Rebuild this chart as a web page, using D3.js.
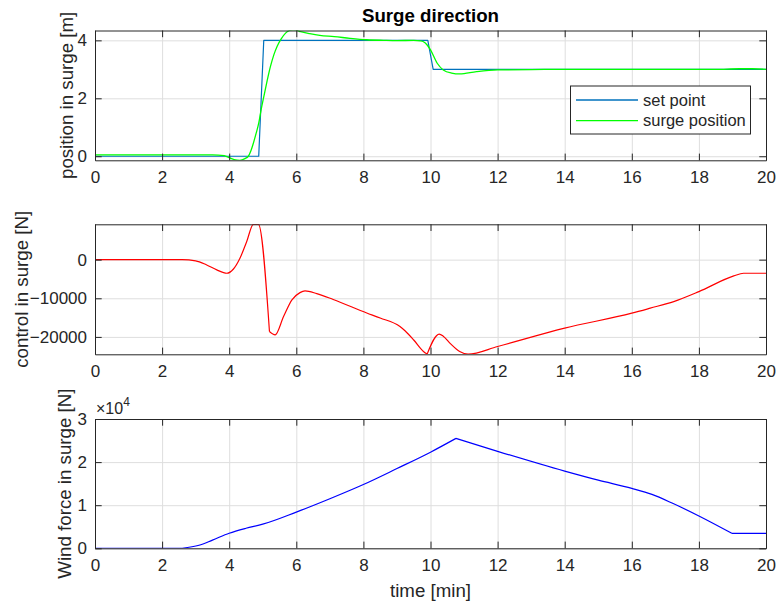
<!DOCTYPE html>
<html>
<head>
<meta charset="utf-8">
<script src="https://cdn.jsdelivr.net/npm/d3@7"></script>
<style>
  html, body { margin: 0; padding: 0; background: #fff; }
  svg { display: block; font-family: "Liberation Sans", Arial, Helvetica, sans-serif; }
</style>
</head>
<body>
<svg id="chart" width="776" height="605"></svg>
<script>
// ---------------- DATA ----------------
const xTicks = [0, 2, 4, 6, 8, 10, 12, 14, 16, 18, 20];

// Panel 1: surge position
const setTime  = [0, 4.88, 5.03, 9.92, 10.08, 20];
const setPoint = [0, 0, 4, 4, 3, 3];
const posTime = [0, 3.5, 3.85, 4.0, 4.15, 4.32, 4.47, 4.57, 4.65, 4.72, 4.8, 4.88, 4.95, 5.03, 5.13, 5.23, 5.33, 5.43, 5.55, 5.68, 5.8, 5.9, 6.0, 6.13, 6.4, 6.7, 7.13, 7.6, 8.1, 8.6, 9.0, 9.5, 9.7, 9.79, 9.9, 10.0, 10.2, 10.38, 10.63, 10.87, 11.37, 12, 13, 14, 18.5, 19.2, 19.6, 20];
const posVal  = [0.05, 0.05, 0.02, -0.05, -0.12, -0.14, -0.08, 0.0, 0.2, 0.45, 0.78, 1.14, 1.6, 2.05, 2.6, 3.1, 3.5, 3.8, 4.05, 4.25, 4.34, 4.36, 4.35, 4.3, 4.23, 4.17, 4.13, 4.07, 4.02, 4.0, 3.99, 4.0, 3.98, 3.95, 3.84, 3.67, 3.21, 2.98, 2.87, 2.84, 2.92, 2.98, 2.99, 3.0, 3.0, 3.02, 3.02, 3.0];
const posTicks = [0, 2, 4];

// Panel 2: control in surge [N]
const ctrlTime = [0, 2.6, 3.0, 3.33, 3.63, 3.93, 4.12, 4.32, 4.52, 4.72, 4.87, 5.2, 5.37, 5.62, 5.87, 6.11, 6.26, 6.61, 7.1, 8.1, 8.5, 9.09, 9.24, 9.5, 9.79, 9.9, 10.26, 10.38, 10.6, 10.87, 11.12, 12, 14, 16, 16.55, 17.25, 18, 19.04, 19.33, 20];
const ctrlVal  = [0, 0, -300, -1370, -2660, -3520, -2490, 360, 4650, 9150, 9150, -18600, -19460, -14730, -10410, -8530, -8100, -8800, -10300, -13800, -15100, -17300, -18400, -20800, -23770, -24450, -19280, -19800, -21800, -23770, -24470, -22480, -17730, -13860, -12560, -10850, -8270, -4210, -3520, -3520];
const ctrlTicks = [-20000, -10000, 0];

// Panel 3: wind force in surge [N]
const windTime = [0, 2.6, 3.1, 3.5, 4.0, 4.5, 5.0, 6.0, 7.0, 8.0, 9.0, 10.0, 10.76, 12, 14, 15, 16, 16.6, 17.2, 18, 18.98, 20];
const windVal  = [0, 0, 700, 1900, 3500, 4650, 5600, 8400, 11500, 14800, 18500, 22300, 25500, 22500, 17900, 15800, 13900, 12500, 10500, 7500, 3480, 3480];
const windTicks = [0, 10000, 20000, 30000];

// ---------------- DRAW ----------------
const svg = d3.select("#chart");
const FONT_TICK = 17, FONT_LABEL = 18.7;
const TXT = "#262626", GRID = "#dedede";
const L = 95, R = 766;
const TICK = 6.7;

const x = d3.scaleLinear().domain([0, 20]).range([L, R]);

function panel(cfg) {
  const y = d3.scaleLinear().domain(cfg.yDomain).range([cfg.bottom, cfg.top]);
  const g = svg.append("g");
  const h = cfg.bottom - cfg.top;
  const w = R - L;

  // grid
  const gx = g.append("g").attr("transform", `translate(0,${cfg.bottom})`)
    .call(d3.axisBottom(x).tickValues(xTicks).tickSize(-h).tickFormat(""));
  const gy = g.append("g").attr("transform", `translate(${L},0)`)
    .call(d3.axisLeft(y).tickValues(cfg.yTicks).tickSize(-w).tickFormat(""));
  [gx, gy].forEach(a => {
    a.select(".domain").remove();
    a.selectAll("line").attr("stroke", GRID).attr("stroke-width", 1);
  });

  // data lines
  const clipId = "clip" + cfg.id;
  svg.append("clipPath").attr("id", clipId).append("rect")
    .attr("x", L).attr("y", cfg.top).attr("width", w).attr("height", h);
  const lines = g.append("g").attr("clip-path", `url(#${clipId})`);
  cfg.series.forEach(s => {
    const pts = s.t.map((t, i) => [t, s.v[i]]);
    // split at sharp-corner indices (if any) so the smoothing keeps those corners
    const cuts = [0, ...(s.breaks || []), pts.length - 1];
    const line = d3.line().x(d => x(d[0])).y(d => y(d[1])).curve(s.curve || d3.curveLinear);
    let d = "";
    for (let k = 0; k < cuts.length - 1; k++) {
      d += line(pts.slice(cuts[k], cuts[k + 1] + 1));
    }
    lines.append("path")
      .attr("d", d)
      .attr("fill", "none").attr("stroke", s.color).attr("stroke-width", s.width || 1.2)
      .attr("stroke-linejoin", "round");
  });

  // axes with inward ticks
  const ax = g.append("g").attr("transform", `translate(0,${cfg.bottom})`)
    .call(d3.axisBottom(x).tickValues(xTicks).tickSize(-TICK).tickPadding(11).tickSizeOuter(0));
  const axT = g.append("g").attr("transform", `translate(0,${cfg.top})`)
    .call(d3.axisTop(x).tickValues(xTicks).tickSize(-TICK).tickFormat("").tickSizeOuter(0));
  const ay = g.append("g").attr("transform", `translate(${L},0)`)
    .call(d3.axisLeft(y).tickValues(cfg.yTicks).tickSize(-TICK).tickPadding(8).tickSizeOuter(0).tickFormat(cfg.fmt || (d => d)));
  const ayR = g.append("g").attr("transform", `translate(${R},0)`)
    .call(d3.axisRight(y).tickValues(cfg.yTicks).tickSize(-TICK).tickFormat("").tickSizeOuter(0));
  [ax, axT, ay, ayR].forEach(a => {
    a.select(".domain").attr("stroke", TXT).attr("stroke-width", 1);
    a.selectAll("line").attr("stroke", TXT).attr("stroke-width", 1);
    a.selectAll("text").attr("fill", TXT).style("font-size", FONT_TICK + "px")
      .style("font-family", '"Liberation Sans", Arial, sans-serif');
  });
  ay.selectAll("text").text(d => (cfg.fmt ? cfg.fmt(d) : String(d)).replace("-", "\u2212"));

  // y label
  g.append("text")
    .attr("transform", `translate(${cfg.labelX},${(cfg.top + cfg.bottom) / 2}) rotate(-90)`)
    .attr("text-anchor", "middle").attr("fill", TXT).style("font-size", FONT_LABEL + "px")
    .text(cfg.label);
  return { g, y };
}

panel({
  id: 1, top: 30.5, bottom: 160.3, yDomain: [-0.14, 4.34], yTicks: posTicks,
  label: "position in surge [m]", labelX: 73,
  series: [
    { t: setTime, v: setPoint, color: "#0072BD", width: 1.2 },
    { t: posTime, v: posVal, color: "#00FF00", width: 1.3, curve: d3.curveMonotoneX }
  ]
});

panel({
  id: 2, top: 224.3, bottom: 354.3, yDomain: [-24500, 9150], yTicks: ctrlTicks,
  label: "control in surge [N]", labelX: 28,
  series: [{ t: ctrlTime, v: ctrlVal, color: "#FF0000", width: 1.2, curve: d3.curveMonotoneX, breaks: [11, 25] }]
});

panel({
  id: 3, top: 419, bottom: 548.3, yDomain: [0, 30000], yTicks: windTicks,
  label: "Wind force in surge [N]", labelX: 71, fmt: d => String(d / 10000),
  series: [{ t: windTime, v: windVal, color: "#0000FF", width: 1.2, curve: d3.curveMonotoneX, breaks: [1, 12, 20] }]
});

// exponent label
const exp = svg.append("text").attr("x", 96).attr("y", 413.5).attr("fill", TXT)
  .style("font-size", "16px");
exp.append("tspan").text("\u00D710");
exp.append("tspan").attr("dy", -8).style("font-size", "12px").text("4");

// title
svg.append("text").attr("x", (L + R) / 2).attr("y", 22).attr("text-anchor", "middle")
  .attr("fill", "#000").style("font-size", FONT_LABEL + "px").style("font-weight", "bold")
  .text("Surge direction");

// x label
svg.append("text").attr("x", (L + R) / 2).attr("y", 597).attr("text-anchor", "middle")
  .attr("fill", TXT).style("font-size", FONT_LABEL + "px").text("time [min]");

// legend
const leg = svg.append("g");
leg.append("rect").attr("x", 570.5).attr("y", 86).attr("width", 180).attr("height", 48)
  .attr("fill", "#fff").attr("stroke", TXT).attr("stroke-width", 1);
const legItems = [
  { name: "set point", color: "#0072BD", yy: 100 },
  { name: "surge position", color: "#00FF00", yy: 120.7 }
];
legItems.forEach(it => {
  leg.append("line").attr("x1", 576).attr("x2", 638).attr("y1", it.yy).attr("y2", it.yy)
    .attr("stroke", it.color).attr("stroke-width", 1.3);
  leg.append("text").attr("x", 643).attr("y", it.yy).attr("dy", "0.35em").attr("fill", TXT)
    .style("font-size", "16.5px").text(it.name);
});
</script>
</body>
</html>
